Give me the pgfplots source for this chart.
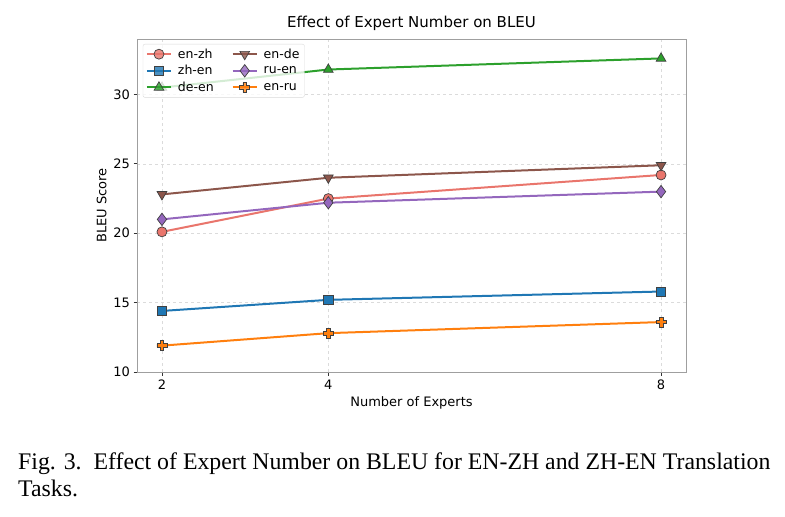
\documentclass[border=0pt]{standalone}
\usepackage{pgfplots}
\pgfplotsset{compat=1.18}
\usepackage{fontspec}
\setmainfont{DejaVu Sans}
\newfontfamily\capfont{Liberation Serif}

\definecolor{cEnZh}{HTML}{E9756C}
\definecolor{cZhEn}{HTML}{1F77B4}
\definecolor{cDeEn}{HTML}{2CA02C}
\definecolor{cEnDe}{HTML}{8C564B}
\definecolor{cRuEn}{HTML}{9467BD}
\definecolor{cEnRu}{HTML}{FF7F0E}

% filled plus marker
\pgfdeclareplotmark{Pplus}{%
  \pgfmathsetmacro{\r}{\pgfplotmarksize}%
  \pgfmathsetmacro{\a}{0.36*\pgfplotmarksize}%
  \pgfpathmoveto{\pgfqpoint{-\a pt}{\r pt}}%
  \pgfpathlineto{\pgfqpoint{\a pt}{\r pt}}%
  \pgfpathlineto{\pgfqpoint{\a pt}{\a pt}}%
  \pgfpathlineto{\pgfqpoint{\r pt}{\a pt}}%
  \pgfpathlineto{\pgfqpoint{\r pt}{-\a pt}}%
  \pgfpathlineto{\pgfqpoint{\a pt}{-\a pt}}%
  \pgfpathlineto{\pgfqpoint{\a pt}{-\r pt}}%
  \pgfpathlineto{\pgfqpoint{-\a pt}{-\r pt}}%
  \pgfpathlineto{\pgfqpoint{-\a pt}{-\a pt}}%
  \pgfpathlineto{\pgfqpoint{-\r pt}{-\a pt}}%
  \pgfpathlineto{\pgfqpoint{-\r pt}{\a pt}}%
  \pgfpathlineto{\pgfqpoint{-\a pt}{\a pt}}%
  \pgfpathclose
  \pgfusepathqfillstroke}

\begin{document}
\begin{tikzpicture}
\useasboundingbox (0,0) rectangle (785pt,517pt);
\begin{axis}[
  at={(137pt,145pt)}, anchor=south west,
  scale only axis, width=549pt, height=333pt,
  xmin=1.7, xmax=8.3, ymin=10, ymax=34,
  xtick={2,4,8}, ytick={10,15,20,25,30},
  xtick pos=left, ytick pos=left,
  tick align=outside, major tick length=3.5pt,
  tick style={black!80, line width=0.8pt},
  axis line style={draw=gray!75, line width=0.9pt},
  grid=major,
  major grid style={dashed, gray!28, line width=0.6pt},
  /pgf/number format/assume math mode=true,
  tick label style={font=\fontsize{13}{15}\selectfont},
  xticklabel style={yshift=-1pt},
  label style={font=\fontsize{13}{15}\selectfont},
  xlabel={Number of Experts},
  ylabel={BLEU Score},
  title={Effect of Expert Number on BLEU},
  title style={font=\fontsize{15}{17}\selectfont, yshift=-1pt},
  legend columns=3, transpose legend,
  legend style={at={(0.0105,0.985)}, anchor=north west,
    font=\fontsize{12.5}{14}\selectfont,
    draw=gray!30, fill=white, fill opacity=0.8, text opacity=1,
    rounded corners=2pt, inner xsep=3pt, inner ysep=2.5pt,
    row sep=1.6pt,
    /tikz/every odd column/.append style={column sep=4pt},
    /tikz/every even column/.append style={column sep=16pt}},
  legend cell align=left,
  legend image code/.code={%
    \draw[mark repeat=2, mark phase=2] plot coordinates {(0pt,0pt) (12pt,0pt) (24pt,0pt)};},
  every axis plot/.append style={line width=2pt},
]
\addplot[cEnZh, mark=*, mark size=5pt,
  mark options={fill=cEnZh, draw=black!75, line width=0.7pt}]
  coordinates {(2,20.1) (4,22.5) (8,24.2)};
\addlegendentry{en-zh}
\addplot[cZhEn, mark=square*, mark size=4.6pt,
  mark options={fill=cZhEn, draw=black!75, line width=0.7pt}]
  coordinates {(2,14.4) (4,15.2) (8,15.8)};
\addlegendentry{zh-en}
\addplot[cDeEn, mark=triangle*, mark size=5.6pt,
  mark options={fill=cDeEn, draw=black!75, line width=0.7pt}]
  coordinates {(2,30.5) (4,31.8) (8,32.6)};
\addlegendentry{de-en}
\addplot[cEnDe, mark=triangle*, mark size=5.6pt,
  mark options={fill=cEnDe, draw=black!75, line width=0.7pt, rotate=180}]
  coordinates {(2,22.8) (4,24.0) (8,24.9)};
\addlegendentry{en-de}
\addplot[cRuEn, mark=diamond*, mark size=6.2pt,
  mark options={fill=cRuEn, draw=black!75, line width=0.7pt}]
  coordinates {(2,21.0) (4,22.2) (8,23.0)};
\addlegendentry{ru-en}
\addplot[cEnRu, mark=Pplus, mark size=5pt,
  mark options={fill=cEnRu, draw=black!75, line width=0.7pt}]
  coordinates {(2,11.9) (4,12.8) (8,13.6)};
\addlegendentry{en-ru}
% darker bottom spine
\draw[black!80, line width=0.9pt] (rel axis cs:0,0) -- (rel axis cs:1,0);
\end{axis}
\node[anchor=base west, inner sep=0pt, font=\capfont\fontsize{23.8}{28}\selectfont]
  at (18pt,47pt) {Fig. 3.\ \ Effect of Expert Number on BLEU for EN-ZH and ZH-EN Translation};
\node[anchor=base west, inner sep=0pt, font=\capfont\fontsize{23.8}{28}\selectfont]
  at (18pt,20pt) {Tasks.};
\end{tikzpicture}
\end{document}
